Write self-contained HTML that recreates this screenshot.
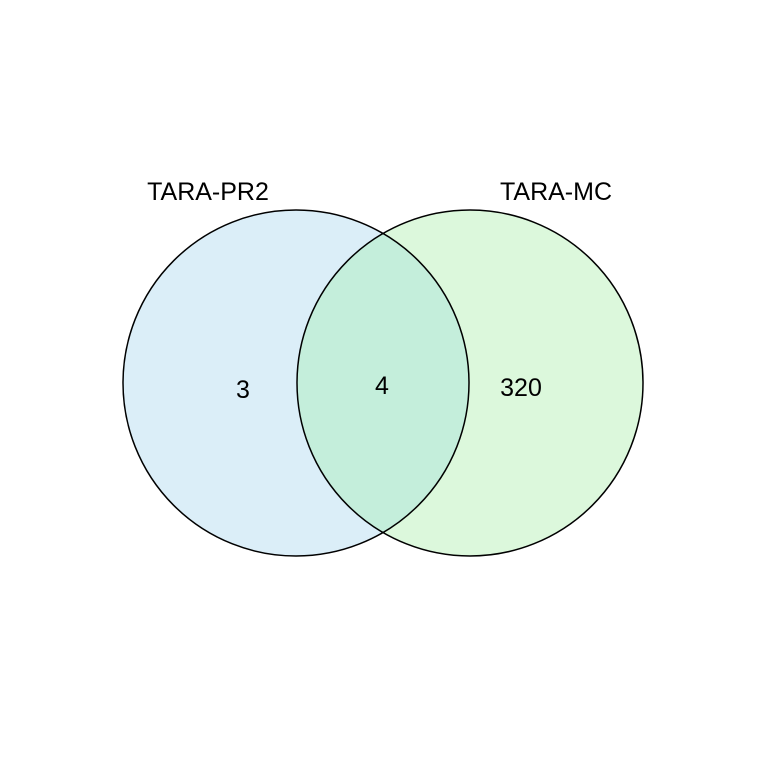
<!DOCTYPE html>
<html><head><meta charset="utf-8"><style>
html,body{margin:0;padding:0;background:#fff;}
</style></head><body>
<svg width="768" height="768" xmlns="http://www.w3.org/2000/svg" style="display:block">
<rect width="768" height="768" fill="#fff"/>
<defs><clipPath id="cl"><circle cx="296" cy="383" r="173"/></clipPath></defs>
<circle cx="296" cy="383" r="173" fill="#dbeef8"/>
<circle cx="470" cy="383" r="173" fill="#dcf8dc"/>
<circle cx="470" cy="383" r="173" fill="#c4eedb" clip-path="url(#cl)"/>
<circle cx="296" cy="383" r="173" fill="none" stroke="#000" stroke-width="1.5"/>
<circle cx="470" cy="383" r="173" fill="none" stroke="#000" stroke-width="1.5"/>
<g font-family="Liberation Sans, sans-serif" fill="#000">
<text x="208" y="200" font-size="25" text-anchor="middle">TARA-PR2</text>
<text x="556" y="200" font-size="25" text-anchor="middle">TARA-MC</text>
<text x="243" y="398" font-size="25" text-anchor="middle">3</text>
<text x="382" y="394" font-size="25" text-anchor="middle">4</text>
<text x="521" y="396" font-size="25" text-anchor="middle">320</text>
</g>
</svg>
</body></html>
